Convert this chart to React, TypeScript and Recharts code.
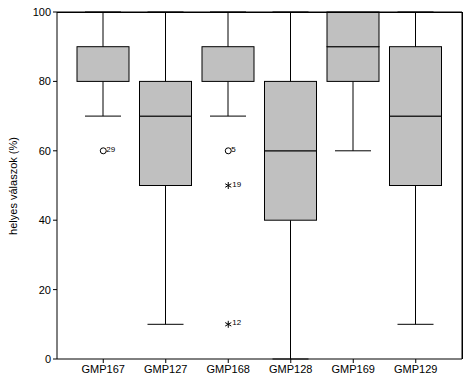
import { Bar, ComposedChart, Scatter, XAxis, YAxis } from 'recharts';

const categories = ['GMP167', 'GMP127', 'GMP168', 'GMP128', 'GMP169', 'GMP129'];
const mins = [70, 10, 70, 0, 60, 10];
const q1s = [80, 50, 80, 40, 80, 50];
const medians = [80, 70, 80, 60, 90, 70];
const q3s = [90, 80, 90, 80, 100, 90];
const maxs = [100, 100, 100, 100, 100, 100];

// outliers (circle) and extremes (star), with case numbers
const circleValues = [60, null, 60, null, null, null];
const circleIds = ['29', null, '5', null, null, null];
const starValues = [null, null, 50, null, null, null];
const starIds = [null, null, '19', null, null, null];
const star2Values = [null, null, 10, null, null, null];
const star2Ids = [null, null, '12', null, null, null];

const yTicks = [0, 20, 40, 60, 80, 100];

const FONT = '"Liberation Sans", Arial, sans-serif';
const BOX_FILL = '#c0c0c0';
const CAP = 18;

const W = 473;
const H = 380;
const MARGIN = { top: 12, right: 11, left: 0, bottom: 0 };
const Y_AXIS_W = 57;
const X_AXIS_H = 21;

const data = categories.map((name, i) => ({
  name,
  base: mins[i],
  lowWhisker: q1s[i] - mins[i],
  boxLow: medians[i] - q1s[i],
  boxHigh: q3s[i] - medians[i],
  highWhisker: maxs[i] - q3s[i],
  circle: circleValues[i],
  circleId: circleIds[i],
  star: starValues[i],
  starId: starIds[i],
  star2: star2Values[i],
  star2Id: star2Ids[i],
}));

// plot frame (SPSS draws a full box round the plot area)
const frame = {
  x: MARGIN.left + Y_AXIS_W,
  y: MARGIN.top,
  width: W - MARGIN.left - Y_AXIS_W - MARGIN.right,
  height: H - MARGIN.top - MARGIN.bottom - X_AXIS_H,
};

// the invisible base bar: draws the top and right edges of the frame once
const BaseShape = (props: any) => {
  if (props.index !== 0) return <g />;
  const right = frame.x + frame.width;
  const bottom = frame.y + frame.height;
  return (
    <g stroke="#000" strokeWidth={1}>
      <line x1={frame.x} x2={right} y1={frame.y} y2={frame.y} />
      <line x1={right} x2={right} y1={frame.y} y2={bottom} />
    </g>
  );
};

const LowWhisker = (props: any) => {
  const { x, y, width, height } = props;
  if (height == null || isNaN(height)) return <g />;
  const cx = x + width / 2;
  return (
    <g stroke="#000" strokeWidth={1}>
      <line x1={cx} x2={cx} y1={y} y2={y + height} />
      <line x1={cx - CAP} x2={cx + CAP} y1={y + height} y2={y + height} />
    </g>
  );
};

const HighWhisker = (props: any) => {
  const { x, y, width, height } = props;
  if (!height) return <g />;
  const cx = x + width / 2;
  return (
    <g stroke="#000" strokeWidth={1}>
      <line x1={cx} x2={cx} y1={y} y2={y + height} />
      <line x1={cx - CAP} x2={cx + CAP} y1={y} y2={y} />
    </g>
  );
};

const BoxPart = (props: any) => {
  const { x, y, width, height } = props;
  if (height == null || isNaN(height)) return <g />;
  return <rect x={x} y={y} width={width} height={Math.max(height, 0)} fill={BOX_FILL} stroke="#000" strokeWidth={1} />;
};

const makeCircle = (idKey: string) => (props: any) => {
  const { cx, cy, payload } = props;
  if (payload == null || payload[idKey] == null || cy == null || isNaN(cy)) return <g />;
  return (
    <g>
      <circle cx={cx} cy={cy} r={3} fill="#fff" stroke="#000" strokeWidth={1} />
      <text x={cx + 3} y={cy + 1} fontSize={8} fontFamily={FONT} fill="#000">
        {payload[idKey]}
      </text>
    </g>
  );
};

const makeStar = (idKey: string) => (props: any) => {
  const { cx, cy, payload } = props;
  if (payload == null || payload[idKey] == null || cy == null || isNaN(cy)) return <g />;
  const r = 3.5;
  const d = r * 0.87;
  return (
    <g>
      <g stroke="#000" strokeWidth={1}>
        <line x1={cx} x2={cx} y1={cy - r} y2={cy + r} />
        <line x1={cx - d} x2={cx + d} y1={cy - r / 2} y2={cy + r / 2} />
        <line x1={cx - d} x2={cx + d} y1={cy + r / 2} y2={cy - r / 2} />
      </g>
      <text x={cx + 4} y={cy + 1} fontSize={8} fontFamily={FONT} fill="#000">
        {payload[idKey]}
      </text>
    </g>
  );
};

const YLabel = () => (
  <text
    x={13}
    y={186}
    transform="rotate(-90 13 186)"
    textAnchor="middle"
    dominantBaseline="central"
    fontSize={11}
    fontFamily={FONT}
    fill="#000"
  >
    helyes válaszok (%)
  </text>
);

export default function App() {
  const tick = { fontSize: 11, fontFamily: FONT, fill: '#000' };
  return (
    <div style={{ position: 'fixed', left: 0, top: 0, width: W, height: H, background: '#fff' }}>
      <ComposedChart width={W} height={H} data={data} margin={MARGIN}>
        <XAxis
          dataKey="name"
          height={X_AXIS_H}
          padding={{ left: 15, right: 15 }}
          tick={tick}
          tickSize={4}
          tickMargin={2}
          axisLine={{ stroke: '#000' }}
          tickLine={{ stroke: '#000' }}
          interval={0}
        />
        <YAxis
          domain={[0, 100]}
          ticks={yTicks}
          width={Y_AXIS_W}
          tick={tick}
          tickSize={4}
          tickMargin={2}
          axisLine={{ stroke: '#000' }}
          tickLine={{ stroke: '#000' }}
          label={<YLabel />}
        />
        <Bar dataKey="base" stackId="box" barSize={52} shape={BaseShape} isAnimationActive={false} />
        <Bar dataKey="lowWhisker" stackId="box" barSize={52} shape={LowWhisker} isAnimationActive={false} />
        <Bar dataKey="boxLow" stackId="box" barSize={52} shape={BoxPart} isAnimationActive={false} />
        <Bar dataKey="boxHigh" stackId="box" barSize={52} shape={BoxPart} isAnimationActive={false} />
        <Bar dataKey="highWhisker" stackId="box" barSize={52} shape={HighWhisker} isAnimationActive={false} />
        <Scatter dataKey="circle" shape={makeCircle('circleId')} isAnimationActive={false} />
        <Scatter dataKey="star" shape={makeStar('starId')} isAnimationActive={false} />
        <Scatter dataKey="star2" shape={makeStar('star2Id')} isAnimationActive={false} />
      </ComposedChart>
      {/* top and right edges of the plot frame as plain CSS borders */}
      <div
        style={{
          position: 'absolute',
          left: frame.x,
          top: frame.y,
          width: frame.width + 1,
          height: frame.height,
          boxSizing: 'border-box',
          borderTop: '1px solid #000',
          borderRight: '1px solid #000',
          pointerEvents: 'none',
        }}
      />
    </div>
  );
}
